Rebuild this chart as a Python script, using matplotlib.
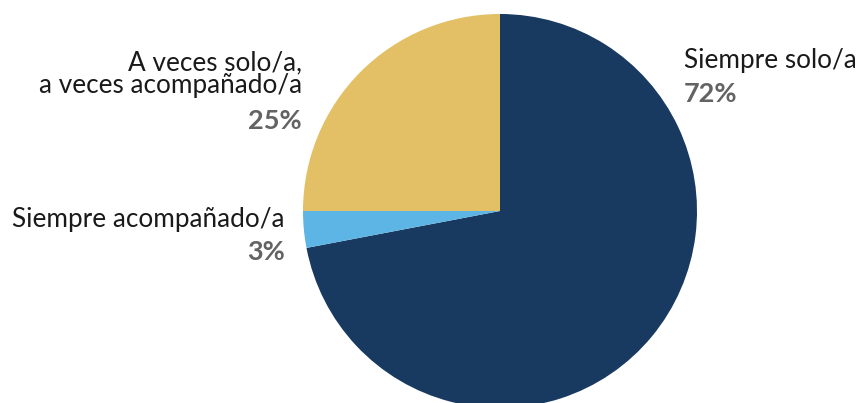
import matplotlib.pyplot as plt

# datos
labels = ["Siempre solo/a", "Siempre acompañado/a", "A veces solo/a,\na veces acompañado/a"]
values = [72, 3, 25]
colors = ["#183a61", "#5db5e5", "#e3c065"]

W, H = 859, 403
plt.rcParams["font.family"] = ["Lato", "DejaVu Sans"]

fig = plt.figure(figsize=(W / 100, H / 100), dpi=100)
ax = fig.add_axes([0, 0, 1, 1])

ax.pie(values, colors=colors, startangle=90, counterclock=False,
       center=(500, H - 211), radius=197, wedgeprops={"linewidth": 0})

# pie() cambia los límites, se fijan después
ax.set_xlim(0, W)
ax.set_ylim(0, H)
ax.set_aspect("equal")
ax.axis("off")

# etiquetas (posiciones en píxeles desde arriba)
lab_fs = 18.8
pct_fs = 19.5
ax.text(684, H - 68, labels[0], fontsize=lab_fs, color="#1a1a1a", ha="left", va="baseline")
ax.text(684, H - 102, f"{values[0]}%", fontsize=pct_fs, color="#636363", fontweight="bold",
        ha="left", va="baseline")

ax.text(302, H - 70, "A veces solo/a,", fontsize=lab_fs, color="#1a1a1a", ha="right", va="baseline")
ax.text(302, H - 93, "a veces acompañado/a", fontsize=lab_fs, color="#1a1a1a", ha="right", va="baseline")
ax.text(302, H - 129, f"{values[2]}%", fontsize=pct_fs, color="#636363", fontweight="bold",
        ha="right", va="baseline")

ax.text(285, H - 227, labels[1], fontsize=lab_fs, color="#1a1a1a", ha="right", va="baseline")
ax.text(285, H - 260, f"{values[1]}%", fontsize=pct_fs, color="#636363", fontweight="bold",
        ha="right", va="baseline")

fig.savefig("out.png", dpi=100)
